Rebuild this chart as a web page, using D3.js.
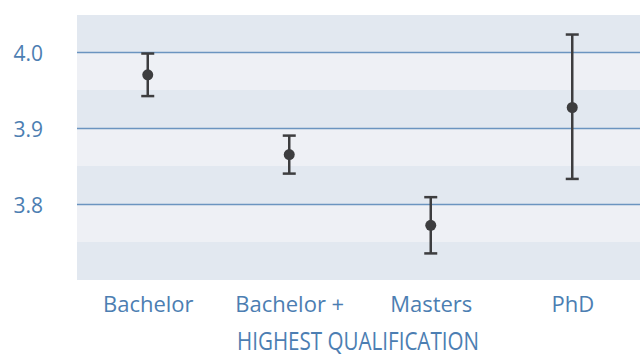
<!DOCTYPE html>
<html>
<head>
<meta charset="utf-8">
<script src="https://cdn.jsdelivr.net/npm/d3@7"></script>
<style>
  html, body { margin: 0; padding: 0; background: #ffffff; }
  svg { display: block; }
</style>
</head>
<body>
<svg id="chart" width="640" height="356"></svg>
<script>
// Mean score by highest qualification, with confidence interval
const categories = ["Bachelor", "Bachelor +", "Masters", "PhD"];
const means = [3.970, 3.865, 3.772, 3.927];
const lower = [3.942, 3.840, 3.735, 3.833];
const upper = [3.998, 3.890, 3.809, 4.023];
const yTicks = [3.8, 3.9, 4.0];
const yTickLabels = ["3.8", "3.9", "4.0"];
const bandEdges = [3.70, 3.75, 3.80, 3.85, 3.90, 3.95, 4.00, 4.05];
const axisTitle = "HIGHEST QUALIFICATION";

const svg = d3.select("#chart");
const plot = { left: 77, right: 643, top: 15, bottom: 280 };

const x = d3.scalePoint().domain(categories).range([plot.left, plot.right]).padding(0.5);
const y = d3.scaleLinear().domain([3.7, 4.0487]).range([plot.bottom, plot.top]);

const textBlue = "#4c7eb2";
const gridBlue = "#6b94c0";
const markColor = "#3d3d3f";

// alternating horizontal bands
const bands = d3.pairs(bandEdges);
svg.append("g").selectAll("rect").data(bands).join("rect")
  .attr("x", plot.left)
  .attr("width", plot.right - plot.left)
  .attr("y", d => y(Math.min(d[1], y.domain()[1])))
  .attr("height", d => y(d[0]) - y(Math.min(d[1], y.domain()[1])))
  .attr("fill", (d, i) => i % 2 === 0 ? "#e2e8f0" : "#eef0f5");

// y axis with gridlines
const yAxis = d3.axisLeft(y)
  .tickValues(yTicks)
  .tickFormat((d, i) => yTickLabels[i])
  .tickSize(plot.left - plot.right)
  .tickPadding(34);
const gy = svg.append("g").attr("transform", `translate(${plot.left},0)`).call(yAxis);
gy.select(".domain").remove();
gy.selectAll(".tick line").attr("stroke", gridBlue).attr("stroke-width", 1.6);
gy.selectAll(".tick text")
  .attr("fill", textBlue)
  .attr("font-family", "'Open Sans', sans-serif")
  .attr("font-size", 21)
  .attr("dy", "0.4em");

// x axis labels
const xAxis = d3.axisBottom(x).tickSize(0).tickPadding(11);
const gx = svg.append("g").attr("transform", `translate(0,${plot.bottom})`).call(xAxis);
gx.select(".domain").remove();
gx.selectAll(".tick text")
  .attr("fill", textBlue)
  .attr("font-family", "'Open Sans', sans-serif")
  .attr("font-size", 22)
  .attr("dy", "0.95em");

// axis title
svg.append("text")
  .attr("x", 237).attr("y", 350)
  .attr("fill", textBlue)
  .attr("font-family", "'Liberation Sans Narrow', 'Open Sans', sans-serif")
  .attr("font-size", 26)
  .attr("textLength", 242)
  .attr("lengthAdjust", "spacingAndGlyphs")
  .text(axisTitle);

// error bars
const g = svg.append("g");
const capW = 13;
categories.forEach((c, i) => {
  const cx = x(c);
  g.append("line").attr("x1", cx).attr("x2", cx)
    .attr("y1", y(lower[i])).attr("y2", y(upper[i]))
    .attr("stroke", markColor).attr("stroke-width", 2.5);
  [lower[i], upper[i]].forEach(v => {
    g.append("line").attr("x1", cx - capW / 2).attr("x2", cx + capW / 2)
      .attr("y1", y(v)).attr("y2", y(v))
      .attr("stroke", markColor).attr("stroke-width", 2.5);
  });
  g.append("circle").attr("cx", cx).attr("cy", y(means[i])).attr("r", 5.5)
    .attr("fill", markColor);
});
</script>
</body>
</html>
